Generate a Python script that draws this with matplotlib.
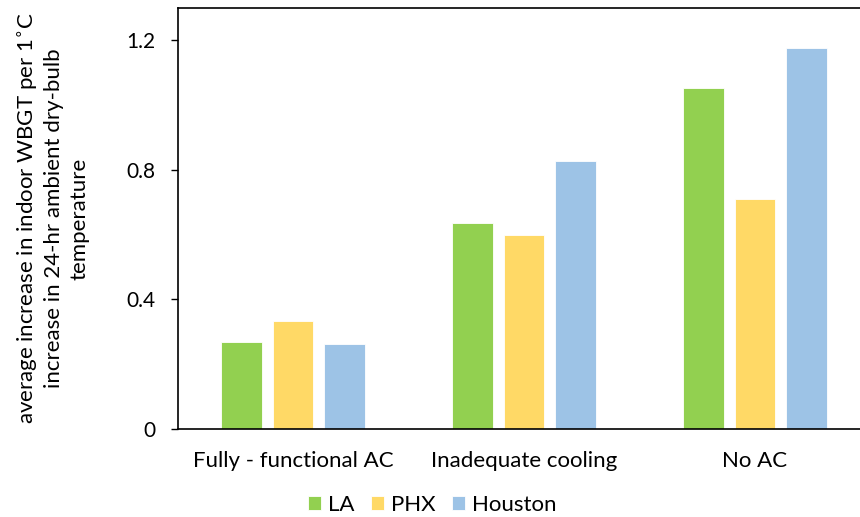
import matplotlib
matplotlib.use("Agg")
import matplotlib.pyplot as plt
import numpy as np

plt.rcParams["font.family"] = ["Lato", "DejaVu Sans"]

categories = ["Fully - functional AC", "Inadequate cooling", "No AC"]
cities = ["LA", "PHX", "Houston"]
la = [0.270, 0.637, 1.052]
phx = [0.335, 0.598, 0.709]
houston = [0.262, 0.828, 1.176]
colors = ["#92D050", "#FFD966", "#9DC3E6"]

fig = plt.figure(figsize=(8.6, 5.17), dpi=100)
ax = fig.add_axes([178 / 860, 88 / 517, 1 - 178 / 860, 421 / 517])

x = np.arange(len(categories))
step = 0.223
width = 0.174
for i, (vals, name) in enumerate(zip([la, phx, houston], cities)):
    ax.bar(x + (i - 1) * step, vals, width, color=colors[i], label=name,
           edgecolor="white", linewidth=0.6)

ax.set_xlim(-0.498, 2.455)
ax.set_ylim(0, 1.3)
ax.set_yticks([0, 0.4, 0.8, 1.2])
ax.set_yticklabels(["0", "0.4", "0.8", "1.2"])
ax.set_xticks(x)
ax.set_xticklabels(categories)
ax.tick_params(axis="x", length=0, pad=16, labelsize=16)
ax.tick_params(axis="y", length=5, width=1, pad=11, labelsize=15)

ax.spines["right"].set_visible(False)
for s in ["left", "bottom", "top"]:
    ax.spines[s].set_linewidth(1.2)
    ax.spines[s].set_color("black")

ax.set_ylabel("average increase in indoor WBGT per 1$^{\\circ}$C\n"
              "increase in 24-hr ambient dry-bulb\ntemperature",
              fontsize=16, labelpad=27, linespacing=1.3)

fig.legend(loc="center", bbox_to_anchor=(432 / 860, 1 - 505 / 517), ncol=3,
           frameon=False, fontsize=16, handlelength=0.6, handleheight=0.6,
           handletextpad=0.3, columnspacing=0.75)

fig.savefig("out.png", dpi=100)
